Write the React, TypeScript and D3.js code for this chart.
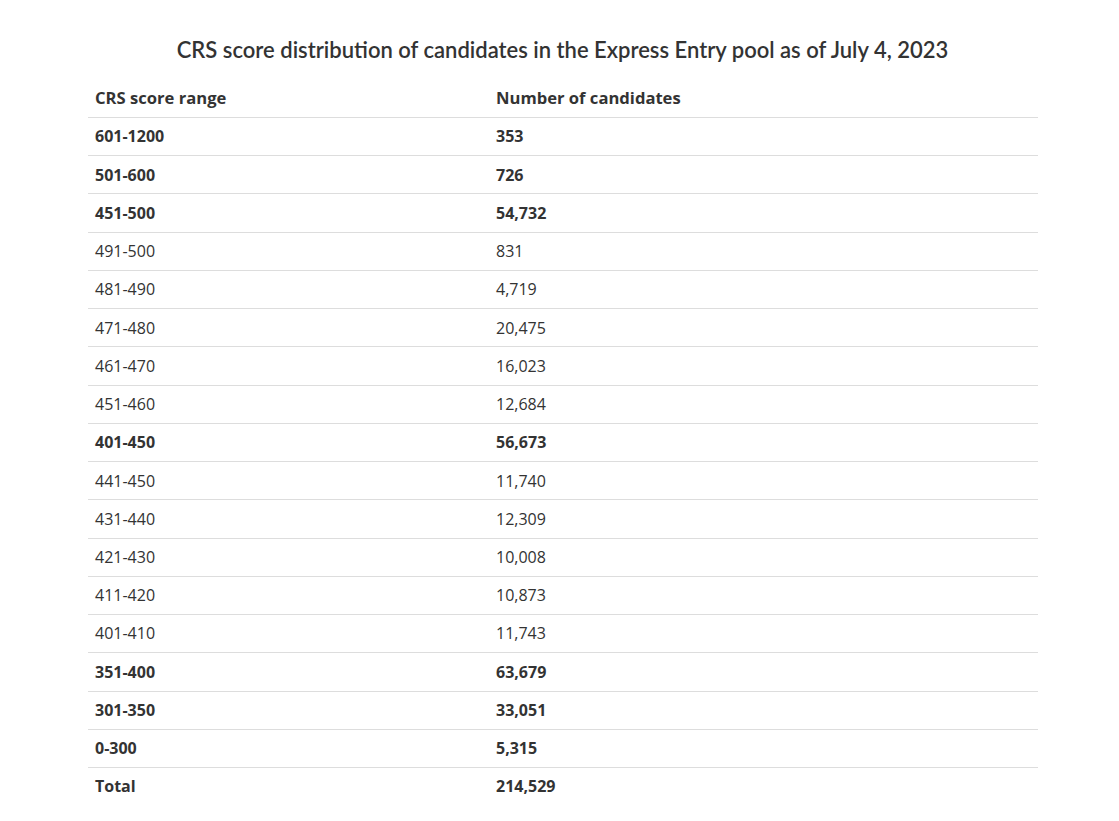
import React, { useEffect, useRef } from "react";
import * as d3 from "d3";

const title = "CRS score distribution of candidates in the Express Entry pool as of July 4, 2023";
const headers = ["CRS score range", "Number of candidates"];
const ranges = [
  "601-1200", "501-600", "451-500", "491-500", "481-490", "471-480", "461-470", "451-460",
  "401-450", "441-450", "431-440", "421-430", "411-420", "401-410", "351-400", "301-350", "0-300", "Total",
];
const counts = [
  353, 726, 54732, 831, 4719, 20475, 16023, 12684,
  56673, 11740, 12309, 10008, 10873, 11743, 63679, 33051, 5315, 214529,
];
const boldRows = [
  true, true, true, false, false, false, false, false,
  true, false, false, false, false, false, true, true, true, true,
];

const W = 1119;
const H = 821;

const App = () => {
  const svgRef = useRef<SVGSVGElement>(null);

  useEffect(() => {
    const svg = d3.select(svgRef.current);
    svg.selectAll("*").remove();

    const left = 88;
    const right = 1038;
    const colX = [95, 496];
    const headTop = 79;
    const tableTop = 117;
    const tableBottom = 767 + 38.24;

    const y = d3
      .scaleBand<number>()
      .domain(d3.range(ranges.length))
      .range([tableTop, tableBottom])
      .paddingInner(0)
      .paddingOuter(0);

    const fmt = d3.format(",");

    svg
      .append("text")
      .attr("x", W / 2 + 3)
      .attr("y", 52)
      .attr("text-anchor", "middle")
      .attr("dominant-baseline", "middle")
      .attr("font-family", "Lato, 'Open Sans', sans-serif")
      .attr("font-size", 22)
      .attr("font-weight", 600)
      .attr("fill", "#333")
      .text(title);

    // header
    headers.forEach((h, i) => {
      svg
        .append("text")
        .attr("x", colX[i])
        .attr("y", (headTop + tableTop) / 2 + 2)
        .attr("dominant-baseline", "middle")
        .attr("font-family", "'Open Sans', sans-serif")
        .attr("font-size", 16.6)
        .attr("font-weight", 700)
        .attr("fill", "#333")
        .text(h);
    });

    // lines
    svg
      .append("g")
      .selectAll("line")
      .data(d3.range(ranges.length))
      .join("line")
      .attr("x1", left)
      .attr("x2", right)
      .attr("y1", (d) => Math.round(y(d)!) + 0.5)
      .attr("y2", (d) => Math.round(y(d)!) + 0.5)
      .attr("stroke", "#dddddd")
      .attr("stroke-width", 1);

    const rows = svg
      .append("g")
      .selectAll("g")
      .data(d3.range(ranges.length))
      .join("g")
      .attr("transform", (d) => `translate(0,${y(d)! + y.bandwidth() / 2 + 2})`);

    rows
      .append("text")
      .attr("x", colX[0])
      .attr("dominant-baseline", "middle")
      .attr("font-family", "'Open Sans', sans-serif")
      .attr("font-size", 16)
      .attr("font-weight", (d) => (boldRows[d] ? 700 : 400))
      .attr("fill", "#333")
      .text((d) => ranges[d]);

    rows
      .append("text")
      .attr("x", colX[1])
      .attr("dominant-baseline", "middle")
      .attr("font-family", "'Open Sans', sans-serif")
      .attr("font-size", 16)
      .attr("font-weight", (d) => (boldRows[d] ? 700 : 400))
      .attr("fill", "#333")
      .text((d) => fmt(counts[d]));
  }, []);

  return (
    <svg
      ref={svgRef}
      width={W}
      height={H}
      style={{ position: "absolute", left: 0, top: 0, background: "#fff" }}
    ></svg>
  );
};

export default App;
